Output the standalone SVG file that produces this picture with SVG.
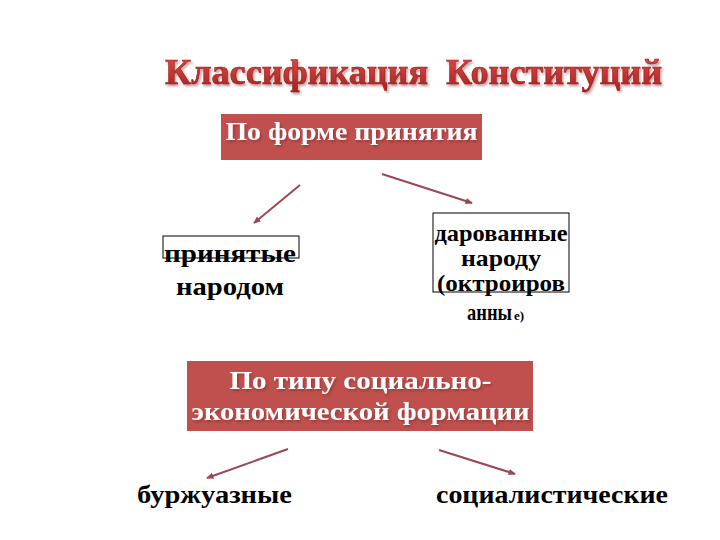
<svg xmlns="http://www.w3.org/2000/svg" width="720" height="540" viewBox="0 0 720 540">
<defs>
<marker id="ah" viewBox="0 0 10 10" refX="8" refY="5" markerWidth="4" markerHeight="4" orient="auto">
<path d="M0,1 L9,5 L0,9 z" fill="#9b4654"/>
</marker>
<linearGradient id="tg" x1="0" y1="0" x2="0" y2="1">
<stop offset="0" stop-color="#e0504a"/>
<stop offset="1" stop-color="#a8201e"/>
</linearGradient>
<filter id="sh" filterUnits="userSpaceOnUse" x="0" y="0" width="720" height="540">
<feDropShadow dx="1.5" dy="2" stdDeviation="0.8" flood-color="#6a2020" flood-opacity="0.45"/>
</filter>
</defs>
<style>
text{font-family:"Liberation Serif","Times New Roman","DejaVu Serif",serif;font-weight:bold}
.title{font-size:36px;fill:url(#tg);stroke:#9a1a1a;stroke-width:0.6;filter:url(#sh)}
.rb{fill:#c0504d}
.wt{fill:#ffffff;text-anchor:middle;filter:url(#sh)}
.bt{fill:#000000;font-size:26px}
.bs{fill:#000000;font-size:23px}
.sm{fill:#000000;font-size:13px}
.ob{fill:none;stroke:#000;stroke-width:1}
.con{stroke:#9b4654;stroke-width:2;fill:none;marker-end:url(#ah)}
</style>
<rect width="720" height="540" fill="#ffffff"/>
<g id="title">
<text class="title" x="165" y="84" textLength="497" lengthAdjust="spacingAndGlyphs" xml:space="preserve">Классификация  Конституций</text>
</g>
<g id="node-form">
<rect class="rb" x="221" y="114" width="261" height="46"/>
<text class="wt" x="351.5" y="140" font-size="26" textLength="252" lengthAdjust="spacingAndGlyphs">По форме принятия</text>
</g>
<g id="node-people">
<rect class="ob" x="163" y="236" width="136" height="22"/>
<text class="bt" x="230" y="262" text-anchor="middle" textLength="132" lengthAdjust="spacingAndGlyphs">принятые</text>
<text class="bt" x="230" y="295" text-anchor="middle" textLength="108" lengthAdjust="spacingAndGlyphs">народом</text>
</g>
<g id="node-granted">
<rect class="ob" x="433" y="213" width="136" height="79"/>
<text class="bs" x="501" y="241" text-anchor="middle" textLength="133" lengthAdjust="spacingAndGlyphs">дарованные</text>
<text class="bs" x="501" y="266" text-anchor="middle" textLength="80" lengthAdjust="spacingAndGlyphs">народу</text>
<text class="bs" x="501" y="291" text-anchor="middle" textLength="128" lengthAdjust="spacingAndGlyphs">(октроиров</text>
<text class="bs" x="467" y="320" textLength="45" lengthAdjust="spacingAndGlyphs">анны</text>
<text class="sm" x="514" y="320">е)</text>
</g>
<g id="node-type">
<rect class="rb" x="187" y="361" width="346" height="70"/>
<text class="wt" x="360.5" y="389" font-size="26" textLength="262" lengthAdjust="spacingAndGlyphs">По типу социально-</text>
<text class="wt" x="360.5" y="420" font-size="26" textLength="338" lengthAdjust="spacingAndGlyphs">экономической формации</text>
</g>
<g id="node-bourgeois">
<text class="bt" x="137" y="503" textLength="155" lengthAdjust="spacingAndGlyphs">буржуазные</text>
</g>
<g id="node-socialist">
<text class="bt" x="436" y="503" textLength="232" lengthAdjust="spacingAndGlyphs">социалистические</text>
</g>
<g id="connectors">
<line class="con" x1="300" y1="185" x2="254" y2="223"/>
<line class="con" x1="382" y1="174" x2="472" y2="203"/>
<line class="con" x1="288" y1="449" x2="207" y2="478"/>
<line class="con" x1="439" y1="450" x2="515" y2="474"/>
</g>
</svg>
